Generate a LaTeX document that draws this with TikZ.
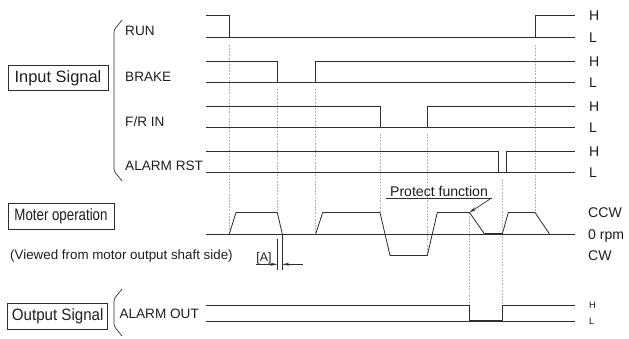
\documentclass[tikz,border=0pt]{standalone}
\usepackage{fontspec}
\setmainfont{Liberation Sans}
\newfontfamily\boxfont[FakeStretch=0.92]{Liberation Sans}
\newfontfamily\boxfontn[FakeStretch=0.81]{Liberation Sans}
\usetikzlibrary{arrows.meta}
\definecolor{wavec}{HTML}{2E2E2E}
\definecolor{guidec}{HTML}{B4B4B4}
\definecolor{textc}{HTML}{1E1E1E}
\tikzset{
  wave/.style={draw=wavec, line width=0.7pt},
  guide/.style={draw=guidec, line width=0.4pt, dash pattern=on 1.6pt off 1.1pt},
  sigbox/.style={draw=wavec, line width=0.7pt, text=textc, font=\boxfont\fontsize{14}{16}\selectfont,
               minimum width=3cm, minimum height=0.75cm, inner sep=0pt},
  siglabel/.style={text=textc, font=\fontsize{11.6}{13}\selectfont, anchor=base west, inner sep=0pt},
  lvl/.style={text=textc, font=\fontsize{12}{14}\selectfont, anchor=base west, inner sep=0pt, yshift=-4.3pt},
  lvlsmall/.style={text=textc, font=\fontsize{8}{9}\selectfont, anchor=base west, inner sep=0pt, yshift=-2.9pt},
  brace/.style={draw=wavec, line width=0.6pt, rounded corners=2pt},
  dim/.style={draw=wavec, line width=0.6pt, -{Stealth[length=6pt,width=2.6pt]}},
}
\def\xL{206}
\def\xR{575}
\def\xH{589}
\def\tA{229.3}
\def\tB{277.3}
\def\tC{315.7}
\def\tD{380}
\def\tE{427.3}
\def\tF{469.5}
\def\tG{498.3}
\def\tI{502.3}
\def\tH{506.7}
\def\tJ{535}
\def\yRH{15.7}
\def\yRL{37.3}
\def\yBH{61.3}
\def\yBL{82.3}
\def\yFH{106.7}
\def\yFL{127.3}
\def\yAH{151.7}
\def\yAL{172.7}
\def\yCCW{212.5}
\def\yZ{234}
\def\yCW{255.5}
\def\yOH{305}
\def\yOL{321}
\newcommand{\lowpulse}[4]{%
  \draw[wave] (\xL,#2) -- (\xR,#2);
  \draw[wave] (\xL,#1) -- (#3,#1) -- (#3,#2) (#4,#2) -- (#4,#1) -- (\xR,#1);}
\newcommand{\hilo}[3]{%
  \node[lvl] (#1-h) at (\xH,#2) {H}; \node[lvl] (#1-l) at (\xH,#3) {L};}

\begin{document}
\begin{tikzpicture}[x=0.03cm, y=-0.03cm]
  \useasboundingbox (0,0) rectangle (629,338);
  \node[sigbox, font=\fontsize{14}{16}\selectfont] (insig) at (58,78.2) {Input Signal};
  \node[sigbox, font=\boxfontn\fontsize{14}{16}\selectfont, minimum width=3.18cm, minimum height=0.78cm]
    (motop) at (61,216.3) {Moter operation};
  \node[sigbox, minimum height=0.78cm] (outsig) at (57.7,316.3) {Output Signal};
  \draw[brace] (122,20) -- (114,30) -- (114,171) -- (122,181);
  \draw[brace] (122,289) -- (114,299) -- (114,326) -- (122,336);
  \node[siglabel] (run) at (125,36) {RUN};
  \node[siglabel] (brake) at (125,81.3) {BRAKE};
  \node[siglabel] (frin) at (125,126) {F/R IN};
  \node[siglabel] (rst) at (125,170.7) {ALARM RST};
  \node[siglabel] (aout) at (119.3,318.3) {ALARM OUT};
  \node[siglabel, font=\fontsize{11.4}{13}\selectfont] (view) at (10,259.3) {(Viewed from motor output shaft side)};
  \foreach \x/\a/\b in {\tA/45/\yZ, \tB/89/\yCCW, \tC/89/\yZ, \tD/134/\yCCW, \tE/134/\yCW,
                         \tF/\yCCW/\yOH, \tI/179/\yOH, \tJ/45/\yCCW}
    \draw[guide] (\x,\a) -- (\x,\b);
  \lowpulse{\yRH}{\yRL}{\tA}{\tJ}
  \lowpulse{\yBH}{\yBL}{\tB}{\tC}
  \lowpulse{\yFH}{\yFL}{\tD}{\tE}
  \lowpulse{\yAH}{\yAL}{\tG}{\tH}
  \lowpulse{\yOH}{\yOL}{\tF}{\tI}
  \draw[wave, line width=1.2pt] (\tF,\yOL) -- (\tI,\yOL);
  \hilo{run}{\yRH}{\yRL}
  \hilo{brake}{\yBH}{\yBL}
  \hilo{frin}{\yFH}{\yFL}
  \hilo{rst}{\yAH}{\yAL}
  \node[lvlsmall] (aout-h) at (\xH,\yOH) {H};
  \node[lvlsmall] (aout-l) at (\xH,\yOL) {L};
  \draw[wave] (\xL,\yZ) -- (\xR,\yZ);
  \draw[wave, line join=round] (\tA,\yZ) -- (236,\yCCW) -- (\tB,\yCCW) -- (282.3,\yZ)
    (\tC,\yZ) -- (322.7,\yCCW) -- (\tD,\yCCW) -- (390,\yCW) -- (\tE,\yCW) -- (437.3,\yCCW)
    -- (\tF,\yCCW) -- (484.5,\yZ) -- (\tI,\yZ) -- (508.3,\yCCW) -- (\tJ,\yCCW) -- (549.5,\yZ);
  \draw[wave, line width=1.3pt] (484.5,\yZ) -- (\tI,\yZ);
  \node[lvl] (ccw) at (588,\yCCW) {CCW};
  \node[lvl] (zero) at (588,\yZ) {0 rpm};
  \node[lvl] (cw) at (588,\yCW) {CW};
  \node[text=textc, font=\fontsize{12}{14}\selectfont, anchor=base, inner xsep=3pt, inner ysep=0.8pt]
    (prot) at (439,196.7) {Protect function};
  \coordinate (pf) at (\tF,\yCCW);
  \draw[wave] (prot.south west) -- (prot.south east);
  \draw[dim] (prot.south east) -- (pf);
  \draw[wave, line width=0.6pt] (\tB,239) -- (\tB,270) (282.3,235) -- (282.3,270);
  \node[text=textc, font=\fontsize{10.5}{12}\selectfont, anchor=south, inner sep=0pt] (dimA) at (264,264.3) {[A]};
  \coordinate (ea) at (\tB,264.3);
  \coordinate (eb) at (282.3,264.3);
  \coordinate (ec) at (302.7,264.3);
  \draw[dim] (dimA.south west) -- (ea);
  \draw[dim] (ec) -- (eb);
\end{tikzpicture}
\end{document}
